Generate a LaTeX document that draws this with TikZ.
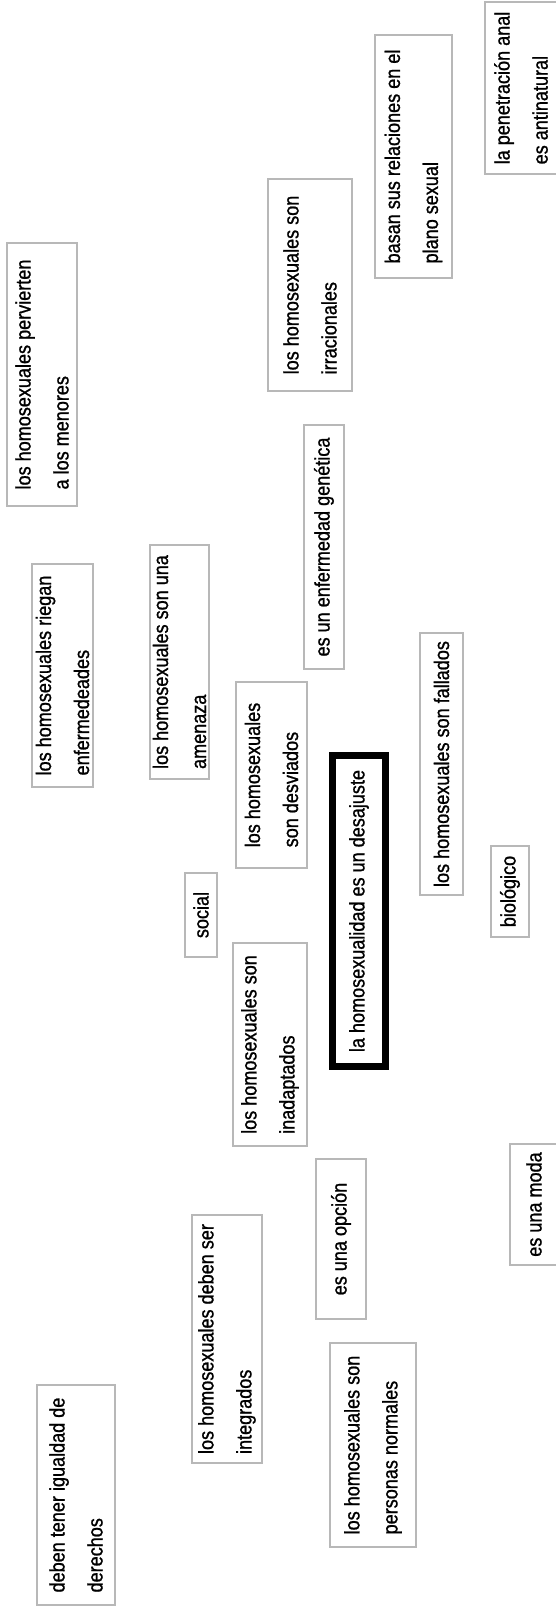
\documentclass[tikz,border=0pt]{standalone}
\usepackage{fontspec}
\setmainfont{Liberation Sans}
\newfontfamily\mapfont[FakeStretch=0.86, FakeBold=1]{Liberation Sans}
\usepackage{tikz}

\begin{document}
\begin{tikzpicture}[x=1pt, y=-1pt, idea/.style 2 args = {draw=black!28, line width=1.3pt, rotate=90, align=left, inner sep=0pt, minimum width=#1, minimum height=#2, font=\mapfont\fontsize{21}{38}\selectfont}]
			\fill[white] (0,0) rectangle (555,1608);
			\useasboundingbox (0,0) rectangle (555,1608);
			\node[idea={172pt}{72pt}] (penetracion) at (521,88) {la penetración anal\\es antinatural};
			\node[idea={243pt}{77pt}] (plano) at (413.5,156.5) {basan sus relaciones en el\\plano sexual};
			\node[idea={212pt}{84pt}] (irracionales) at (310,285) {los homosexuales son\\irracionales};
			\node[idea={263pt}{70pt}] (menores) at (42,374.5) {los homosexuales pervierten\\a los menores};
			\node[idea={244pt}{40pt}] (genetica) at (324,547) {es un enfermedad genética};
			\node[idea={234pt}{59pt}] (amenaza) at (179.5,662) {los homosexuales son una\\amenaza};
			\node[idea={223pt}{61pt}] (riegan) at (62.5,675.5) {los homosexuales riegan\\enfermedeades};
			\node[idea={262pt}{43pt}] (fallados) at (441.5,764) {los homosexuales son fallados};
			\node[idea={186pt}{71pt}] (desviados) at (271.5,775) {los homosexuales\\son desviados};
			\node[idea={84pt}{32pt}] (social) at (201,915) {social};
			\node[idea={311pt}{53pt}, draw=black, line width=7pt] (desajuste) at (359,911) {la homosexualidad es un desajuste};
			\node[idea={91pt}{38pt}] (biologico) at (510,891.5) {biológico};
			\node[idea={203pt}{74pt}] (inadaptados) at (270,1044.5) {los homosexuales son\\inadaptados};
			\node[idea={160pt}{50pt}] (opcion) at (341,1239) {es una opción};
			\node[idea={121pt}{48pt}] (moda) at (534,1204.5) {es una moda};
			\node[idea={248pt}{70pt}] (integrados) at (227,1339) {los homosexuales deben ser\\integrados};
			\node[idea={204pt}{86pt}] (normales) at (373,1445) {los homosexuales son\\personas normales};
			\node[idea={220pt}{78pt}] (derechos) at (76,1495) {deben tener igualdad de\\derechos};
			\end{tikzpicture}
\end{document}
